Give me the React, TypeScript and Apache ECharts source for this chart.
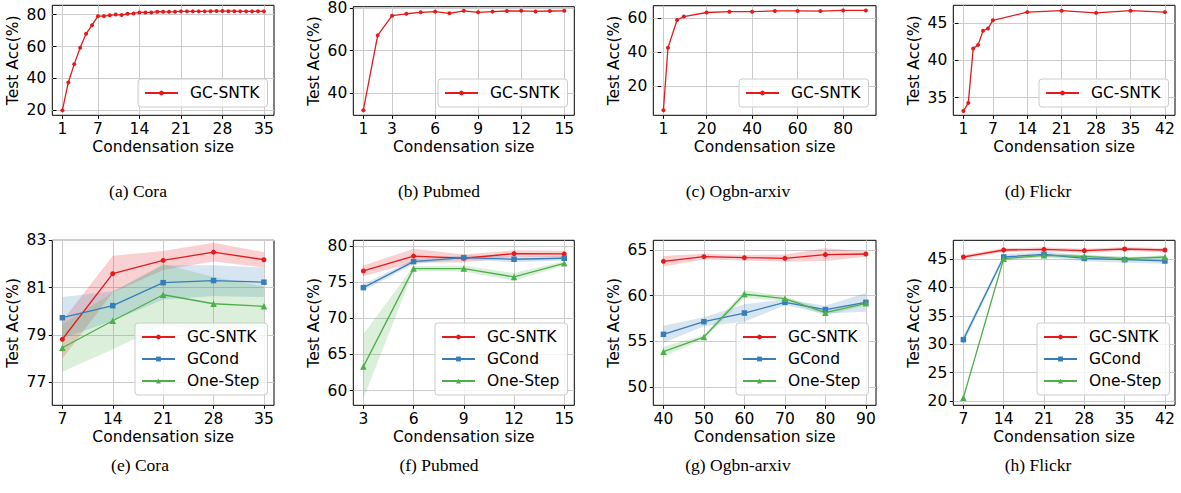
import React, { useEffect, useRef } from 'react';
import * as echarts from 'echarts';

// ---------- data ----------
// (a) Cora, single method
const coraSizes = [1, 2, 3, 4, 5, 6, 7, 8, 9, 10, 11, 12, 13, 14, 15, 16, 17, 18, 19, 20, 21, 22, 23, 24, 25, 26, 27, 28, 29, 30, 31, 32, 33, 34, 35];
const coraAcc = [20, 37.5, 49, 59.3, 68, 73.4, 79.1, 79.1, 79.6, 80.1, 79.8, 80.6, 80.8, 81.4, 81.4, 81.4, 81.9, 81.8, 81.8, 81.9, 82.1, 82.1, 82.1, 82.1, 82.1, 82.2, 82.3, 82.3, 82.2, 82.2, 82.1, 82.1, 82.1, 82.2, 82.1];
// (b) Pubmed
const pubmedSizes = [1, 2, 3, 4, 5, 6, 7, 8, 9, 10, 11, 12, 13, 14, 15];
const pubmedAcc = [32.2, 67.2, 76.4, 77.3, 78, 78.3, 77.5, 78.7, 78, 78.3, 78.6, 78.7, 78.4, 78.6, 78.7];
// (c) Ogbn-arxiv
const arxivSizes = [1, 3, 7, 10, 20, 30, 40, 50, 60, 70, 80, 90];
const arxivAcc = [5.9, 42.7, 59, 61, 63.4, 63.9, 63.9, 64.3, 64.3, 64.2, 64.6, 64.6];
// (d) Flickr
const flickrSizes = [1, 2, 3, 4, 5, 6, 7, 14, 21, 28, 35, 42];
const flickrAcc = [33.2, 34.3, 41.6, 42.1, 44.0, 44.3, 45.4, 46.5, 46.7, 46.4, 46.7, 46.5];

// (e) Cora comparison
const coraCmpSizes = [7, 14, 21, 28, 35];
const coraSntk = [78.82, 81.59, 82.15, 82.5, 82.18];
const coraSntkLo = [78.0, 80.8, 81.75, 82.1, 81.85];
const coraSntkHi = [79.6, 82.35, 82.55, 82.9, 82.5];
const coraGcond = [79.73, 80.24, 81.21, 81.3, 81.23];
const coraGcondLo = [78.85, 79.6, 80.5, 80.65, 80.6];
const coraGcondHi = [80.6, 80.85, 81.95, 81.95, 81.85];
const coraOne = [78.46, 79.6, 80.7, 80.32, 80.21];
const coraOneLo = [77.45, 78.4, 79.4, 79.2, 79.35];
const coraOneHi = [79.45, 80.8, 82.0, 81.45, 81.05];

// (f) Pubmed comparison
const pubCmpSizes = [3, 6, 9, 12, 15];
const pubSntk = [76.54, 78.6, 78.3, 78.94, 78.89];
const pubSntkLo = [75.8, 77.7, 77.7, 78.5, 78.45];
const pubSntkHi = [77.3, 79.6, 78.8, 79.4, 79.35];
const pubGcond = [74.24, 77.83, 78.39, 78.16, 78.3];
const pubGcondLo = [73.8, 77.5, 78.1, 77.75, 78.0];
const pubGcondHi = [74.7, 78.15, 78.7, 78.55, 78.6];
const pubOne = [63.32, 76.87, 76.87, 75.72, 77.6];
const pubOneLo = [58.9, 76.55, 76.45, 75.2, 77.3];
const pubOneHi = [67.8, 77.2, 77.3, 76.25, 77.9];

// (g) Ogbn-arxiv comparison
const arxCmpSizes = [40, 50, 60, 70, 80, 90];
const arxSntk = [63.76, 64.27, 64.16, 64.09, 64.49, 64.56];
const arxSntkLo = [63.2, 63.95, 63.85, 63.7, 63.8, 64.25];
const arxSntkHi = [64.35, 64.6, 64.45, 64.5, 65.2, 64.85];
const arxGcond = [55.77, 57.15, 58.1, 59.27, 58.47, 59.27];
const arxGcondLo = [54.85, 56.65, 57.15, 58.95, 58.05, 58.25];
const arxGcondHi = [56.7, 57.65, 59.05, 59.6, 58.9, 60.3];
const arxOne = [53.87, 55.47, 60.18, 59.67, 58.14, 59.16];
const arxOneLo = [53.35, 55.25, 59.75, 59.45, 57.8, 58.95];
const arxOneHi = [54.4, 55.7, 60.6, 59.9, 58.45, 59.4];

// (h) Flickr comparison
const flkCmpSizes = [7, 14, 21, 28, 35, 42];
const flkSntk = [45.35, 46.58, 46.7, 46.47, 46.76, 46.58];
const flkSntkLo = [45.0, 46.25, 46.35, 46.1, 46.4, 46.2];
const flkSntkHi = [45.7, 46.9, 47.05, 46.8, 47.1, 46.95];
const flkGcond = [30.8, 45.35, 45.82, 45.1, 44.88, 44.65];
const flkGcondLo = [30.1, 44.85, 45.35, 44.6, 44.35, 44.15];
const flkGcondHi = [31.5, 45.85, 46.3, 45.6, 45.4, 45.15];
const flkOne = [20.59, 45.06, 45.65, 45.47, 45.06, 45.35];
const flkOneLo = [20.3, 44.75, 45.35, 45.15, 44.75, 45.05];
const flkOneHi = [20.9, 45.35, 45.95, 45.8, 45.35, 45.65];

// tick labels
const coraTicksX = [1, 7, 14, 21, 28, 35];
const coraTicksY = [20, 40, 60, 80];
const pubmedTicksX = [1, 3, 6, 9, 12, 15];
const pubmedTicksY = [40, 60, 80];
const arxivTicksX = [1, 20, 40, 60, 80];
const arxivTicksY = [20, 40, 60];
const flickrTicksX = [1, 7, 14, 21, 28, 35, 42];
const flickrTicksY = [35, 40, 45];
const coraCmpTicksX = [7, 14, 21, 28, 35];
const coraCmpTicksY = [77, 79, 81, 83];
const pubCmpTicksX = [3, 6, 9, 12, 15];
const pubCmpTicksY = [60, 65, 70, 75, 80];
const arxCmpTicksX = [40, 50, 60, 70, 80, 90];
const arxCmpTicksY = [50, 55, 60, 65];
const flkCmpTicksX = [7, 14, 21, 28, 35, 42];
const flkCmpTicksY = [20, 25, 30, 35, 40, 45];

const methodNames = ['GC-SNTK', 'GCond', 'One-Step'];
const captions = ['(a) Cora', '(b) Pubmed', '(c) Ogbn-arxiv', '(d) Flickr', '(e) Cora', '(f) Pubmed', '(g) Ogbn-arxiv', '(h) Flickr'];
const xAxisTitle = 'Condensation size';
const yAxisTitle = 'Test Acc(%)';

// ---------- styling / layout ----------
const FONT = 'DejaVu Sans';
const FS = 15.5;
const COLORS: Record<string, string> = { 'GC-SNTK': '#e41a1c', GCond: '#377eb8', 'One-Step': '#4daf4a' };
const BAND_COLORS: Record<string, string> = { 'GC-SNTK': 'rgba(228,26,28,0.2)', GCond: 'rgba(55,126,184,0.2)', 'One-Step': 'rgba(77,175,74,0.2)' };
const SYMBOLS: Record<string, string> = { 'GC-SNTK': 'circle', GCond: 'rect', 'One-Step': 'triangle' };
const SIZES: Record<string, number> = { 'GC-SNTK': 5, GCond: 5.5, 'One-Step': 6.5 };

type Line = { name: string; mean: number[]; lo?: number[]; hi?: number[] };
type Panel = {
  left: number; top: number; width: number; height: number;
  xMin: number; xMax: number; yMin: number; yMax: number;
  xTicks: number[]; yTicks: number[]; x: number[]; lines: Line[];
  legendLeft: number; legendTop: number; small?: boolean;
};

const panels: Panel[] = [
  { left: 52.3, top: 5.3, width: 221.7, height: 110, xMin: -0.7, xMax: 36.7, yMin: 16.9, yMax: 85.9, xTicks: coraTicksX, yTicks: coraTicksY, x: coraSizes, lines: [{ name: methodNames[0], mean: coraAcc }], legendLeft: 138, legendTop: 79, small: true },
  { left: 353.3, top: 6.7, width: 221, height: 108.6, xMin: 0.3, xMax: 15.7, yMin: 29.8, yMax: 80.6, xTicks: pubmedTicksX, yTicks: pubmedTicksY, x: pubmedSizes, lines: [{ name: methodNames[0], mean: pubmedAcc }], legendLeft: 438, legendTop: 79, small: true },
  { left: 653.3, top: 5.7, width: 222.7, height: 109.6, xMin: -3.45, xMax: 94.45, yMin: 2.94, yMax: 67.4, xTicks: arxivTicksX, yTicks: arxivTicksY, x: arxivSizes, lines: [{ name: methodNames[0], mean: arxivAcc }], legendLeft: 739, legendTop: 79, small: true },
  { left: 953.3, top: 5.3, width: 221.7, height: 110, xMin: -1.05, xMax: 44.05, yMin: 32.63, yMax: 47.42, xTicks: flickrTicksX, yTicks: flickrTicksY, x: flickrSizes, lines: [{ name: methodNames[0], mean: flickrAcc }], legendLeft: 1039, legendTop: 79, small: true },
  { left: 52.3, top: 240.3, width: 221.7, height: 165, xMin: 5.6, xMax: 36.4, yMin: 76.03, yMax: 83.0, xTicks: coraCmpTicksX, yTicks: coraCmpTicksY, x: coraCmpSizes, lines: [
    { name: methodNames[0], mean: coraSntk, lo: coraSntkLo, hi: coraSntkHi },
    { name: methodNames[1], mean: coraGcond, lo: coraGcondLo, hi: coraGcondHi },
    { name: methodNames[2], mean: coraOne, lo: coraOneLo, hi: coraOneHi },
  ], legendLeft: 135, legendTop: 323 },
  { left: 353.3, top: 240.3, width: 221, height: 165, xMin: 2.4, xMax: 15.6, yMin: 57.97, yMax: 80.78, xTicks: pubCmpTicksX, yTicks: pubCmpTicksY, x: pubCmpSizes, lines: [
    { name: methodNames[0], mean: pubSntk, lo: pubSntkLo, hi: pubSntkHi },
    { name: methodNames[1], mean: pubGcond, lo: pubGcondLo, hi: pubGcondHi },
    { name: methodNames[2], mean: pubOne, lo: pubOneLo, hi: pubOneHi },
  ], legendLeft: 435, legendTop: 323 },
  { left: 653.3, top: 240.3, width: 222.7, height: 165, xMin: 37.5, xMax: 92.5, yMin: 48.0, yMax: 66.06, xTicks: arxCmpTicksX, yTicks: arxCmpTicksY, x: arxCmpSizes, lines: [
    { name: methodNames[0], mean: arxSntk, lo: arxSntkLo, hi: arxSntkHi },
    { name: methodNames[1], mean: arxGcond, lo: arxGcondLo, hi: arxGcondHi },
    { name: methodNames[2], mean: arxOne, lo: arxOneLo, hi: arxOneHi },
  ], legendLeft: 736, legendTop: 323 },
  { left: 953.3, top: 240.3, width: 221.7, height: 165, xMin: 5.25, xMax: 43.75, yMin: 19.24, yMax: 48.29, xTicks: flkCmpTicksX, yTicks: flkCmpTicksY, x: flkCmpSizes, lines: [
    { name: methodNames[0], mean: flkSntk, lo: flkSntkLo, hi: flkSntkHi },
    { name: methodNames[1], mean: flkGcond, lo: flkGcondLo, hi: flkGcondHi },
    { name: methodNames[2], mean: flkOne, lo: flkOneLo, hi: flkOneHi },
  ], legendLeft: 1037, legendTop: 323 },
];

const captionPos = [
  [138, 191], [439, 191], [738, 191], [1038, 191],
  [140, 465], [439, 465], [738, 465], [1038, 465],
];

function buildOption() {
  const grid: any[] = [];
  const xAxis: any[] = [];
  const yAxis: any[] = [];
  const series: any[] = [];
  const legend: any[] = [];
  const textBase = { fontFamily: FONT, fontSize: FS, color: '#000' };

  panels.forEach((p, i) => {
    grid.push({ left: p.left, top: p.top, width: p.width, height: p.height, show: true, borderColor: '#000', borderWidth: 1, backgroundColor: 'transparent', containLabel: false });
    xAxis.push({
      type: 'value', gridIndex: i, min: p.xMin, max: p.xMax,
      axisLine: { show: false },
      axisTick: { show: true, length: 3.5, lineStyle: { color: '#000', width: 1 }, customValues: p.xTicks },
      axisLabel: { ...textBase, margin: 6, customValues: p.xTicks },
      splitLine: { show: true, lineStyle: { color: '#cccccc', width: 1 } },
      name: xAxisTitle, nameLocation: 'middle', nameGap: 24, nameTextStyle: textBase,
    });
    yAxis.push({
      type: 'value', gridIndex: i, min: p.yMin, max: p.yMax,
      axisLine: { show: false },
      axisTick: { show: true, length: 3.5, lineStyle: { color: '#000', width: 1 }, customValues: p.yTicks },
      axisLabel: { ...textBase, margin: 6, customValues: p.yTicks },
      splitLine: { show: true, lineStyle: { color: '#cccccc', width: 1 } },
      name: yAxisTitle, nameLocation: 'middle', nameGap: 31, nameRotate: 90, nameTextStyle: textBase,
    });
    p.lines.forEach((ln, k) => {
      const color = COLORS[ln.name];
      if (ln.lo && ln.hi) {
        const xs = p.x;
        const lo = ln.lo;
        const hi = ln.hi;
        const fill = BAND_COLORS[ln.name];
        series.push({
          type: 'custom', name: `band-${i}-${k}`, coordinateSystem: 'cartesian2d',
          xAxisIndex: i, yAxisIndex: i, silent: true, z: 1,
          data: xs.map((xv, j) => [xv, lo[j], hi[j]]),
          encode: { x: 0, y: [1, 2] },
          renderItem: (params: any, api: any) => {
            if (params.dataIndex !== 0) return null;
            const pts: number[][] = [];
            for (let j = 0; j < xs.length; j++) pts.push(api.coord([xs[j], hi[j]]));
            for (let j = xs.length - 1; j >= 0; j--) pts.push(api.coord([xs[j], lo[j]]));
            return { type: 'polygon', shape: { points: pts }, style: { fill, stroke: 'none' } };
          },
        });
      }
      series.push({
        type: 'line', name: ln.name, xAxisIndex: i, yAxisIndex: i,
        data: p.x.map((xv, j) => [xv, ln.mean[j]]),
        symbol: SYMBOLS[ln.name], symbolSize: p.small ? 4 : SIZES[ln.name], showSymbol: true,
        lineStyle: { color, width: 1.3 }, itemStyle: { color }, z: 3,
      });
    });
    legend.push({
      show: true, orient: 'vertical', left: p.legendLeft, top: p.legendTop,
      data: p.lines.map((l) => l.name), itemWidth: 33, itemHeight: 6, itemGap: 6,
      padding: [6, 8, 6, 6], backgroundColor: 'rgba(255,255,255,0.8)', borderColor: '#cccccc',
      borderWidth: 1, borderRadius: 3, selectedMode: false,
      textStyle: { ...textBase, lineHeight: 16, padding: [0, 0, 0, 7] },
    });
  });

  const graphic = captions.map((c, i) => ({
    type: 'text', x: captionPos[i][0], y: captionPos[i][1], silent: true,
    style: { text: c, fontFamily: 'Liberation Serif', fontSize: 17.5, fill: '#000', align: 'center', verticalAlign: 'middle', textAlign: 'center', textVerticalAlign: 'middle' },
  }));

  return { animation: false, backgroundColor: '#fff', grid, xAxis, yAxis, series, legend, graphic };
}

export default function App() {
  const ref = useRef<HTMLDivElement>(null);
  useEffect(() => {
    document.body.style.margin = '0';
    if (!ref.current) return;
    const chart = echarts.init(ref.current, undefined, { renderer: 'svg' });
    chart.setOption(buildOption() as any);
    return () => chart.dispose();
  }, []);
  return <div ref={ref} style={{ width: 1181, height: 493 }} />;
}
